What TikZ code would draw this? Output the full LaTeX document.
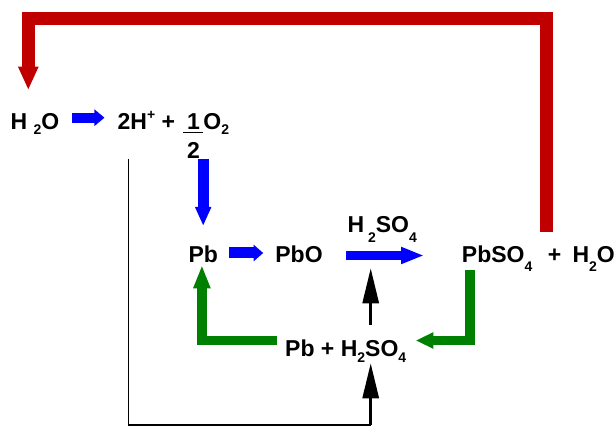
\documentclass[tikz,border=0pt]{standalone}
\usepackage{fontspec}
\setmainfont{Liberation Sans}
\usepackage{xcolor}
\usepackage{tikz}
\definecolor{leadred}{RGB}{192,0,0}
\definecolor{leadblue}{RGB}{0,0,255}
\definecolor{leadgreen}{RGB}{0,128,0}
\newcommand{\chemsub}[2][7pt]{\raisebox{-#1}{\fontsize{14}{14}\selectfont #2}}
\newcommand{\chemsup}[1]{\raisebox{10pt}{\fontsize{14}{14}\selectfont #1}}
\newcommand{\halfpart}{\vtop{\offinterlineskip\hbox to 20pt{\hss 1\hss}\kern3pt\hrule height 1.2pt\kern9pt\hbox to 20pt{\hss 2\hss}}}
\usetikzlibrary{calc,positioning,arrows.meta}

\begin{document}
\begin{tikzpicture}[x=1pt, y=-1pt,
    chem/.style={inner sep=0pt, anchor=base west, font=\fontsize{23}{27}\selectfont\bfseries},
    pipe/.style={line join=miter, line cap=butt},
    bluepipe/.style={pipe, draw=leadblue, line width=#1},
    greenpipe/.style={pipe, draw=leadgreen, line width=#1},
    redpipe/.style={pipe, draw=leadred, line width=12.7pt},
    blackpipe/.style={pipe, draw=black, line width=3pt},
    feedline/.style={draw=black, line width=1.4pt},
]
\useasboundingbox (0,0) rectangle (616,427);

% Water splitting
\node (water) [chem] at (10.5,129.3) {H \chemsub[5.7pt]{2}O};
\node (ions) [chem, base right=57.9pt of water] {2H\chemsup{+} + \hspace{2pt}\halfpart O\chemsub[5.7pt]{2}};

% Lead cycle
\node (pb) [chem] at (188.3,263) {Pb};
\node (pbo) [chem, base right=57.1pt of pb] {PbO};
\node (acid) [chem] at (347.3,233) {H\hspace{4pt}\chemsub[10pt]{2}SO\chemsub[10pt]{4}};
\node (sulfate) [chem, base right=138.9pt of pbo] {PbSO\chemsub[9pt]{4}\hspace{9pt} + \hspace{5pt}H\chemsub[9pt]{2}O};
\node (mix) [chem] at (285,356.7) {Pb + H\chemsub[6.3pt]{2}SO\chemsub[6.3pt]{4}};

% Blue arrows
\draw[bluepipe=10pt, -{Triangle[length=10pt,width=16pt]}] ([xshift=12.4pt,yshift=11.6pt]water.base east) -- ([xshift=-13pt,yshift=11.6pt]ions.base west);
\draw[bluepipe=11pt, -{Triangle[length=19pt,width=15pt]}] (pb |- ions.south) -- ([yshift=20.2pt]pb.north);
\draw[bluepipe=11pt, -{Triangle[length=9.5pt,width=16pt]}] ([xshift=11.3pt,yshift=10pt]pb.base east) -- ([xshift=-12pt,yshift=10pt]pbo.base west);
\draw[bluepipe=9pt, -{Triangle[length=23pt,width=15.6pt]}] ([xshift=23.6pt,yshift=7.5pt]pbo.base east) -- ([xshift=-37.7pt,yshift=7.5pt]sulfate.base west);

% Green arrows
\draw[greenpipe=9.5pt, -{Triangle[length=17.7pt,width=15.3pt]}] ([xshift=8.2pt,yshift=-7pt]sulfate.base west) |- ([xshift=9.3pt,yshift=16.2pt]mix.base east);
\draw[greenpipe=9.5pt, -{Triangle[length=23.3pt,width=15.7pt]}] ([xshift=-7.7pt,yshift=16.2pt]mix.base west) -| ([xshift=-1.3pt,yshift=-2pt]pb.base);

% Red return
\draw[redpipe, -{Triangle[length=23.3pt,width=18.7pt]}] ([xshift=85pt,yshift=31pt]sulfate.base west) -- ++(0,-213.3) -| ([xshift=17.8pt,yshift=23pt]water.north west);

% Black feed
\coordinate (feed) at (370.7,425);
\draw[feedline] ([xshift=11.2pt]ions.south west) |- (feed);
\draw[blackpipe, -{Triangle[length=35pt,width=16pt]}] (feed) -- ($(feed |- mix.base)+(0,6.6)$);
\draw[blackpipe, -{Triangle[length=35pt,width=16pt]}] ($(feed |- mix.north)+(0,-15)$) -- ($(feed |- pbo.base)+(0,5.3)$);

\end{tikzpicture}
\end{document}
